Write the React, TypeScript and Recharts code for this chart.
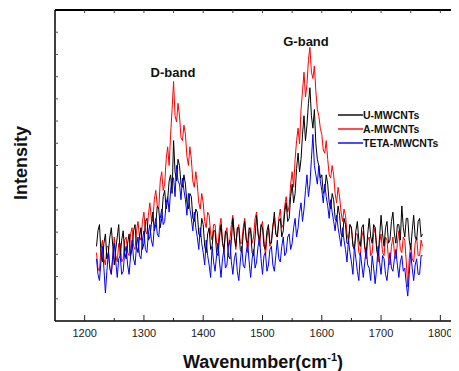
import React from 'react';
import { LineChart, Line, XAxis, YAxis } from 'recharts';

// Raman spectra, sampled every 2.5 cm-1 from 1220 to 1770
const wavenumber = Array.from({ length: 221 }, (_, i) => 1220 + 2.5 * i);

const uMwcnts = [
  24, 29, 31, 22, 19, 25, 28, 20, 22, 27, 30, 24, 18, 23, 27, 31, 21, 26, 29, 22,
  20, 25, 28, 21, 23, 29, 31, 24, 22, 27, 30, 23, 25, 32, 33, 26, 27, 31, 35, 29,
  31, 37, 36, 30, 33, 40, 42, 36, 39, 45, 47, 41, 58, 48, 45, 52, 50, 44, 43, 47,
  44, 38, 36, 41, 40, 33, 32, 36, 35, 28, 27, 33, 31, 24, 22, 28, 30, 23, 24, 29,
  29, 22, 21, 27, 31, 25, 23, 29, 28, 21, 20, 26, 33, 27, 24, 30, 30, 23, 22, 28,
  32, 26, 25, 30, 29, 22, 21, 27, 34, 28, 26, 31, 30, 24, 23, 29, 31, 25, 25, 30,
  35, 28, 27, 32, 33, 27, 29, 35, 38, 32, 33, 40, 44, 38, 41, 49, 54, 48, 52, 60,
  66, 58, 63, 70, 75, 66, 62, 68, 57, 52, 50, 46, 47, 41, 42, 47, 44, 38, 36, 41,
  39, 33, 32, 37, 34, 28, 27, 33, 31, 25, 25, 31, 30, 24, 23, 29, 32, 26, 24, 30,
  31, 24, 22, 28, 33, 27, 25, 31, 30, 23, 21, 27, 34, 28, 24, 30, 32, 25, 26, 32,
  35, 28, 25, 31, 31, 26, 37, 30, 27, 33, 33, 26, 23, 29, 34, 27, 26, 32, 33, 27,
  28,
];

const aMwcnts = [
  22, 17, 16, 23, 26, 20, 18, 24, 24, 17, 15, 21, 27, 21, 19, 25, 25, 19, 20, 26,
  27, 22, 21, 28, 30, 24, 23, 29, 32, 27, 26, 32, 35, 29, 28, 34, 38, 33, 32, 39,
  42, 37, 36, 45, 48, 42, 44, 52, 56, 50, 60, 68, 77, 66, 64, 70, 66, 59, 58, 63,
  60, 53, 50, 56, 52, 45, 43, 48, 44, 38, 36, 41, 38, 32, 30, 35, 34, 28, 26, 31,
  31, 25, 24, 30, 33, 26, 22, 28, 30, 24, 26, 31, 34, 28, 23, 29, 31, 25, 25, 30,
  33, 27, 22, 28, 30, 25, 27, 33, 35, 28, 24, 30, 32, 26, 21, 27, 30, 24, 26, 31,
  33, 28, 27, 33, 36, 30, 31, 37, 40, 35, 37, 44, 48, 43, 52, 58, 62, 57, 68, 74,
  80, 72, 76, 84, 88, 80, 78, 82, 74, 68, 66, 62, 60, 55, 54, 58, 52, 47, 46, 50,
  47, 41, 38, 43, 40, 35, 32, 36, 34, 28, 26, 31, 30, 25, 23, 28, 28, 22, 21, 27,
  29, 23, 20, 26, 27, 21, 22, 28, 30, 24, 19, 25, 28, 22, 21, 27, 26, 20, 18, 24,
  27, 22, 20, 25, 29, 23, 22, 27, 26, 19, 11, 20, 25, 20, 19, 25, 27, 21, 21, 26,
  24,
];

const tetaMwcnts = [
  20, 15, 13, 19, 24, 17, 9, 16, 22, 17, 15, 21, 25, 19, 14, 20, 21, 15, 16, 22,
  24, 18, 15, 21, 26, 20, 18, 24, 27, 21, 20, 26, 29, 23, 22, 28, 31, 26, 24, 30,
  33, 28, 27, 33, 36, 31, 32, 38, 40, 35, 42, 46, 46, 40, 50, 45, 44, 39, 46, 42,
  39, 34, 41, 36, 33, 29, 35, 30, 27, 23, 30, 25, 22, 18, 26, 21, 18, 14, 24, 19,
  16, 21, 25, 19, 14, 20, 23, 17, 18, 24, 26, 19, 15, 20, 22, 16, 13, 19, 24, 18,
  17, 22, 25, 19, 14, 20, 23, 17, 19, 24, 27, 20, 15, 21, 22, 16, 18, 23, 24, 18,
  16, 21, 26, 20, 19, 24, 27, 21, 22, 27, 28, 23, 25, 30, 33, 27, 30, 35, 38, 32,
  36, 42, 47, 40, 44, 52, 60, 50, 47, 44, 50, 45, 42, 38, 44, 40, 37, 33, 39, 35,
  32, 29, 34, 30, 27, 24, 30, 26, 23, 19, 26, 22, 19, 15, 24, 20, 16, 13, 22, 18,
  14, 19, 23, 18, 17, 13, 21, 17, 12, 17, 24, 19, 15, 21, 20, 15, 13, 18, 22, 17,
  16, 20, 23, 18, 14, 19, 21, 16, 17, 12, 8, 15, 22, 17, 13, 18, 20, 15, 15, 21,
  21,
];

const xTicks = [1200, 1250, 1300, 1350, 1400, 1450, 1500, 1550, 1600, 1650, 1700, 1750, 1800];
const yTicks = [7.14, 14.29, 21.43, 28.57, 35.71, 42.86, 50, 57.14, 64.29, 71.43, 78.57, 85.71, 92.86];

const seriesInfo = [
  { key: 'u', name: 'U-MWCNTs', color: '#000000' },
  { key: 'a', name: 'A-MWCNTs', color: '#ff0000' },
  { key: 'teta', name: 'TETA-MWCNTs', color: '#0000ff' },
];

const data = wavenumber.map((w, i) => ({
  w,
  u: uMwcnts[i],
  a: aMwcnts[i],
  teta: tetaMwcnts[i],
}));

const FONT = "Arial, 'Liberation Sans', sans-serif";

const BottomTick = (props: any) => {
  const { x, y, payload } = props;
  const major = payload.value % 100 === 0;
  return (
    <g>
      <line x1={x} x2={x} y1={y} y2={y - (major ? 6 : 3)} stroke="#222" strokeWidth={1} />
      {major && (
        <text x={x} y={y + 16} textAnchor="middle" fontSize={11} fill="#222" fontFamily={FONT}>
          {payload.value}
        </text>
      )}
    </g>
  );
};

const TopTick = (props: any) => {
  const { x, y } = props;
  return <line x1={x} x2={x} y1={y} y2={y + 3} stroke="#444" strokeWidth={1} />;
};

const LeftTick = (props: any) => {
  const { x, y } = props;
  return <line x1={x} x2={x + 3} y1={y} y2={y} stroke="#555" strokeWidth={1} />;
};

const title = { position: 'absolute', fontWeight: 'bold', color: '#111', whiteSpace: 'nowrap' } as const;

export default function App() {
  return (
    <div style={{ position: 'relative', width: 451, height: 363, overflow: 'hidden', fontFamily: FONT }}>
      <LineChart width={480} height={363} data={data} margin={{ top: 1, right: 18, left: 0, bottom: 0 }}>
        <XAxis
          dataKey="w"
          type="number"
          domain={[1150, 1850]}
          allowDataOverflow
          ticks={xTicks}
          interval={0}
          height={50}
          tickSize={0}
          tickMargin={0}
          tickLine={false}
          tick={BottomTick}
          axisLine={{ stroke: '#000', strokeWidth: 1.5 }}
        />
        <XAxis
          xAxisId="top"
          dataKey="w"
          orientation="top"
          type="number"
          domain={[1150, 1850]}
          allowDataOverflow
          ticks={xTicks}
          interval={0}
          height={1}
          tickSize={0}
          tickMargin={0}
          tickLine={false}
          tick={TopTick}
          axisLine={{ stroke: '#000', strokeWidth: 2 }}
        />
        <YAxis
          type="number"
          domain={[0, 100]}
          allowDataOverflow
          ticks={yTicks}
          interval={0}
          width={47}
          tickSize={0}
          tickMargin={0}
          tickLine={false}
          tick={LeftTick}
          axisLine={{ stroke: '#000', strokeWidth: 1.5 }}
        />
        <Line dataKey="a" stroke="#ff0000" strokeWidth={1} dot={false} isAnimationActive={false} />
        <Line dataKey="u" stroke="#000000" strokeWidth={1} dot={false} isAnimationActive={false} />
        <Line xAxisId="top" dataKey="teta" stroke="#0000ff" strokeWidth={1} dot={false} isAnimationActive={false} />
      </LineChart>

      {/* peak labels */}
      <div style={{ ...title, left: 165, top: 64, transform: 'translate(-50%, -50%)', fontSize: 13 }}>D-band</div>
      <div style={{ ...title, left: 298, top: 33, transform: 'translate(-50%, -50%)', fontSize: 13 }}>G-band</div>

      {/* legend */}
      <div style={{ position: 'absolute', left: 330, top: 100 }}>
        {seriesInfo.map((s) => (
          <div key={s.key} style={{ display: 'flex', alignItems: 'center', height: 14 }}>
            <span style={{ display: 'inline-block', width: 25, height: 1.5, background: s.color, opacity: 0.7 }} />
            <span style={{ fontSize: 10.5, fontWeight: 'bold', color: '#111', whiteSpace: 'nowrap' }}>{s.name}</span>
          </div>
        ))}
      </div>

      {/* axis titles */}
      <div style={{ ...title, left: 13, top: 155, transform: 'translate(-50%, -50%) rotate(-90deg)', fontSize: 18 }}>
        Intensity
      </div>
      <div style={{ ...title, left: 255, top: 354, transform: 'translate(-50%, -50%)', fontSize: 18 }}>
        Wavenumber(cm<sup style={{ fontSize: 11 }}>-1</sup>)
      </div>
    </div>
  );
}
